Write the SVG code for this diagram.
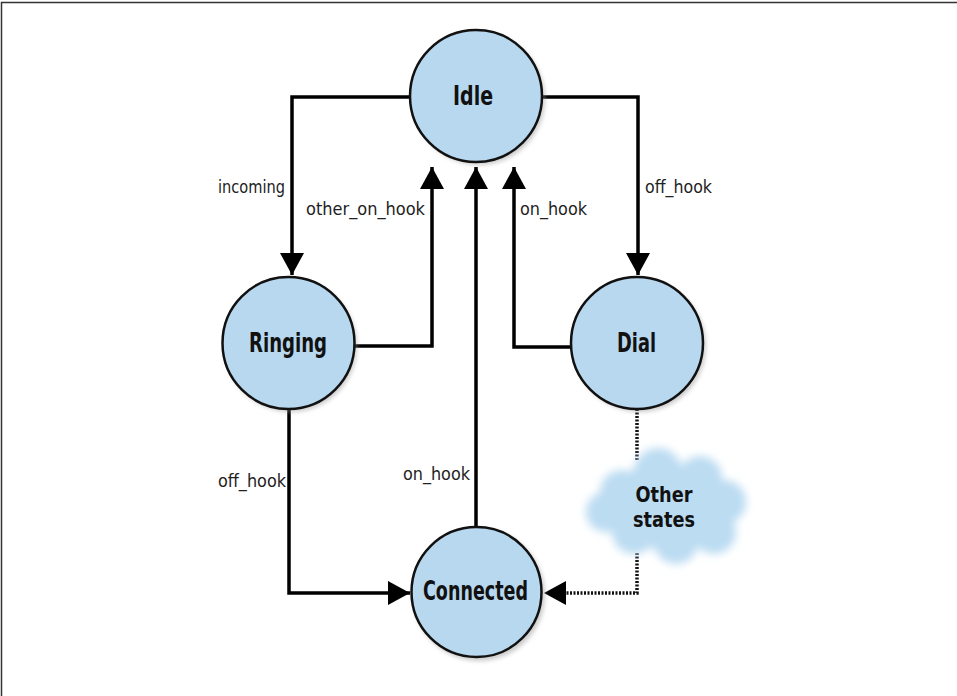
<svg xmlns="http://www.w3.org/2000/svg" width="957" height="696" viewBox="0 0 957 696">
<style>
.state{fill:#b8d8ef;stroke:#111;stroke-width:2.5}
.name{font-family:"DejaVu Sans Condensed","Liberation Sans",sans-serif;font-weight:bold;font-size:26px;fill:#111;text-anchor:middle}
.cloudtxt{font-size:22px}
.lbl{font-family:"DejaVu Sans Condensed","Liberation Sans",sans-serif;font-size:18px;fill:#222}
.wire{fill:none;stroke:#000;stroke-width:3.5}
.dot{fill:none;stroke:#111;stroke-width:3.5;stroke-dasharray:2 1.5}
</style>
<defs>
<marker id="ah" markerUnits="userSpaceOnUse" markerWidth="24" markerHeight="26" refX="22" refY="12" orient="auto">
<path d="M0,0 L22,12 L0,24 Z" fill="#000"/>
</marker>
<filter id="blur" x="-20%" y="-20%" width="140%" height="140%"><feGaussianBlur stdDeviation="4"/></filter>
<filter id="sh" x="-20%" y="-20%" width="140%" height="140%"><feGaussianBlur stdDeviation="2"/></filter>
</defs>
<rect x="0" y="0" width="957" height="696" fill="#fff"/>
<rect x="1.5" y="2.5" width="970" height="710" fill="none" stroke="#333" stroke-width="1.5"/>
<g id="connectors">
<path class="wire" d="M410,97 H292 V275" marker-end="url(#ah)"/>
<path class="wire" d="M542,97 H638 V275" marker-end="url(#ah)"/>
<path class="wire" d="M355,346 H432 V167" marker-end="url(#ah)"/>
<path class="wire" d="M571,347 H514 V167" marker-end="url(#ah)"/>
<path class="wire" d="M476,527 V167" marker-end="url(#ah)"/>
<path class="wire" d="M289,408 V593 H410" marker-end="url(#ah)"/>
<path class="dot" d="M637,409 V460"/>
<path class="dot" d="M637,553 V593 H566"/>
<path d="M544,593 L566,581 L566,605 Z" fill="#000"/>
<text class="lbl" x="218" y="193" textLength="67" lengthAdjust="spacingAndGlyphs">incoming</text>
<text class="lbl" x="306" y="215" textLength="119" lengthAdjust="spacingAndGlyphs">other_on_hook</text>
<text class="lbl" x="520" y="215" textLength="67" lengthAdjust="spacingAndGlyphs">on_hook</text>
<text class="lbl" x="645" y="193" textLength="67" lengthAdjust="spacingAndGlyphs">off_hook</text>
<text class="lbl" x="218" y="487" textLength="68" lengthAdjust="spacingAndGlyphs">off_hook</text>
<text class="lbl" x="403" y="480" textLength="67" lengthAdjust="spacingAndGlyphs">on_hook</text>
</g>
<g id="idle">
<circle cx="479" cy="99" r="66" fill="#999" opacity="0.5" filter="url(#sh)"/>
<circle class="state" cx="476" cy="96" r="66"/>
<text class="name" x="473" y="105" textLength="40" lengthAdjust="spacingAndGlyphs">Idle</text>
</g>
<g id="ringing">
<circle cx="291" cy="346" r="66" fill="#999" opacity="0.5" filter="url(#sh)"/>
<circle class="state" cx="288.5" cy="343" r="66"/>
<text class="name" x="288" y="352" textLength="78" lengthAdjust="spacingAndGlyphs">Ringing</text>
</g>
<g id="dial">
<circle cx="640" cy="346" r="66" fill="#999" opacity="0.5" filter="url(#sh)"/>
<circle class="state" cx="637" cy="343" r="66"/>
<text class="name" x="636.5" y="352" textLength="39" lengthAdjust="spacingAndGlyphs">Dial</text>
</g>
<g id="connected">
<circle cx="479" cy="595" r="66" fill="#999" opacity="0.5" filter="url(#sh)"/>
<circle class="state" cx="476.5" cy="592" r="65"/>
<text class="name" x="475.5" y="600" textLength="105" lengthAdjust="spacingAndGlyphs">Connected</text>
</g>
<g id="other-states">
<g fill="#bcdcf2" filter="url(#blur)">
<ellipse cx="664" cy="507" rx="64" ry="42"/>
<circle cx="622" cy="492" r="22"/>
<circle cx="658" cy="472" r="24"/>
<circle cx="700" cy="478" r="22"/>
<circle cx="724" cy="502" r="22"/>
<circle cx="714" cy="532" r="22"/>
<circle cx="676" cy="542" r="22"/>
<circle cx="634" cy="532" r="22"/>
<circle cx="606" cy="512" r="20"/>
</g>
<text class="name cloudtxt" x="664" y="502" textLength="57" lengthAdjust="spacingAndGlyphs">Other</text>
<text class="name cloudtxt" x="664" y="527" textLength="62" lengthAdjust="spacingAndGlyphs">states</text>
</g>
</svg>
